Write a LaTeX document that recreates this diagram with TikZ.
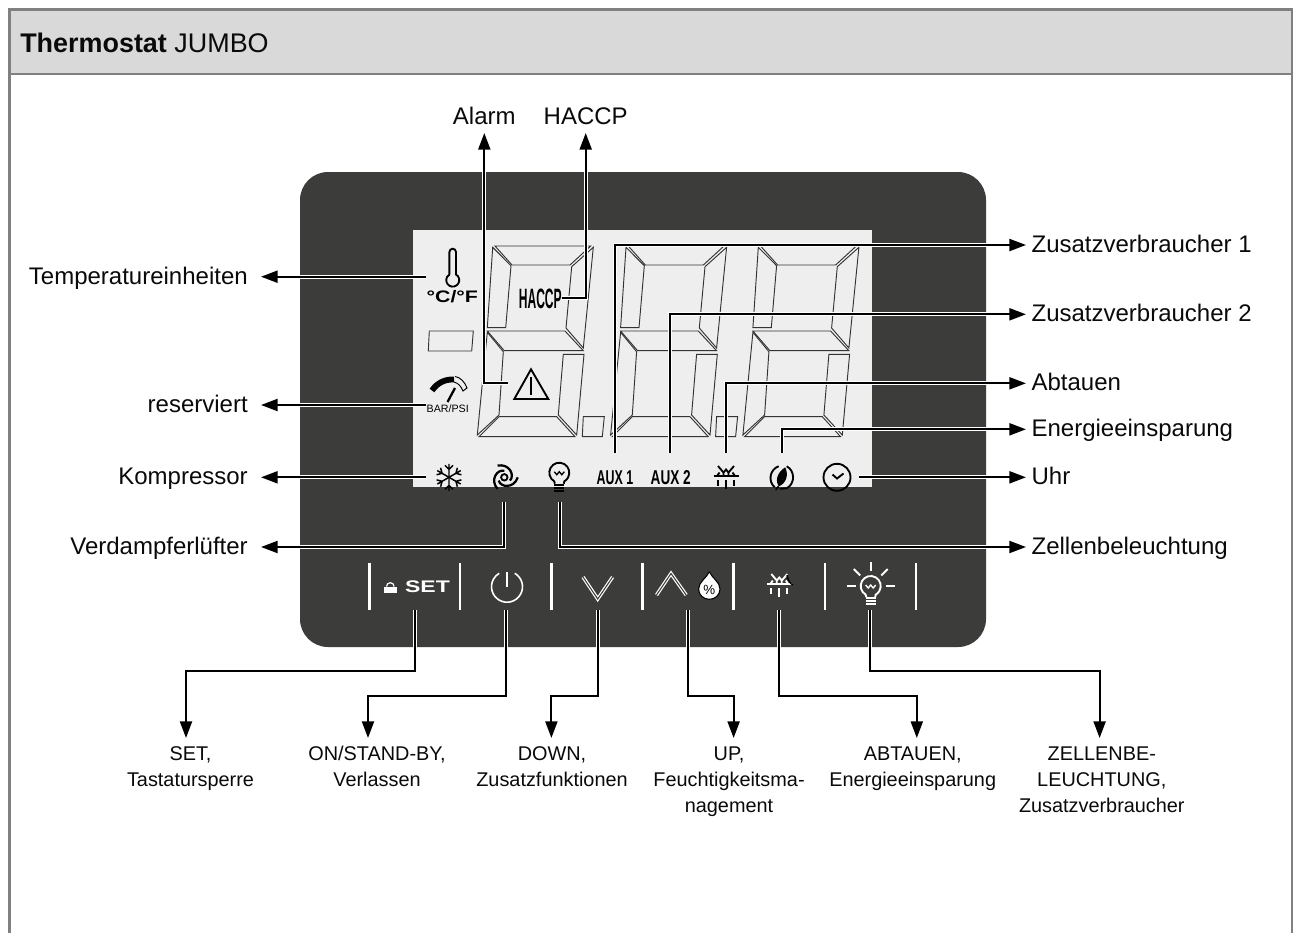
\documentclass[tikz,border=0pt]{standalone}
\usepackage{fontspec}
\setmainfont{Liberation Sans}
\usetikzlibrary{arrows.meta,positioning,calc}
\definecolor{frameg}{RGB}{128,128,128}
\definecolor{headg}{RGB}{217,217,217}
\definecolor{paneld}{RGB}{60,60,59}
\definecolor{lcdg}{RGB}{238,238,238}
\definecolor{ink}{RGB}{10,10,10}
\tikzset{
  lead/.style={-{Triangle[length=12.5pt,width=9pt]},line width=1.6pt,draw=black,
    preaction={draw=white,line width=3.2pt,-}},
  lbl/.style={font=\fontsize{18}{21}\selectfont,text=ink,text height=14pt,text depth=2.6pt},
  lblE/.style={lbl,anchor=east,inner ysep=0pt,inner xsep=9.75pt},
  lblW/.style={lbl,anchor=west,inner ysep=0pt,inner xsep=4pt},
  lblT/.style={lbl,anchor=south,inner xsep=0pt,inner ysep=3.6pt},
  sub/.style={font=\fontsize{14.9}{19.3}\selectfont,text=ink,align=center,anchor=north,inner sep=0pt},
  seg/.style={draw=black!80,line width=0.7pt,line join=miter},
  sepbar/.style={draw=white,line width=2.2pt},
  ico/.style={line width=1.4pt,line cap=butt},
  chevron/.style={draw=white,double=paneld,line width=0.9pt,double distance=0.8pt,miter limit=8},
  lcdtext/.style={inner sep=0pt,text=black},
  % seven segments, drawn at their place for the first digit
  pics/digit/.style={code={
    \draw[seg] (495,246) -- (590.7,246) -- (570,265) -- (512,265) -- cycle;
    \draw[seg] (492.7,247.3) -- (511,265.7) -- (505.7,327.7) -- (487.3,327.7) -- cycle;
    \draw[seg] (593.3,247.3) -- (571.7,266.7) -- (566,328) -- (583.3,348) -- cycle;
    \draw[seg] (487.3,331) -- (565,331) -- (583.3,350.7) -- (504.3,350.7) -- cycle;
    \draw[seg] (487.3,332.3) -- (503.3,351.7) -- (499,415) -- (477.3,435) -- cycle;
    \draw[seg] (563.3,354.3) -- (584,354.3) -- (576.7,435) -- (558.3,415) -- cycle;
    \draw[seg] (499,416.7) -- (556.7,416.7) -- (575,436.7) -- (479,436.7) -- cycle;
  }},
  pics/bulb/.style={code={
    \draw[ico] (-4.5,11) .. controls (-4.5,9) .. (120:10) arc[start angle=120,end angle=420,radius=10] .. controls (4.5,9) .. (4.5,11);
    \draw[ico,line width=1pt] (-5,-1) -- (-2.5,2) -- (0,-1) -- (2.5,2) -- (5,-1);
    \foreach \y in {12,15,18} \draw[ico,line width=1.5pt] (-5,\y) -- (5,\y);
  }},
  pics/defrost/.style={code={
    \draw[ico] (-12.5,0) -- (12.5,0);
    \draw[ico] (-8,-10) -- (-2.5,-3.5) -- (-2.5,0) (8,-10) -- (2.5,-3.5) -- (2.5,0);
    \draw[ico] (-2.5,-3.5) -- (0,-6.5) -- (2.5,-3.5);
    \draw[ico] (-9,0) -- (-6.5,-3.5) (9,0) -- (6.5,-3.5);
    \foreach \x/\a/\b in {-8/4/10,0/4/13,8/4/10} \draw[ico] (\x,\a) -- (\x,\b);
  }},
}
\begin{document}
\begin{tikzpicture}[x=0.75pt,y=-0.75pt]
  \useasboundingbox (0,0) rectangle (1295,933);
  \fill[white] (0,0) rectangle (1295,933);
  % header and frame
  \fill[headg] (9.5,9.5) rectangle (1292,74);
  \draw[frameg,line width=2pt] (9.5,74) -- (1292,74);
  \draw[frameg,line width=2pt] (9.5,933) -- (9.5,9.5) -- (1292,9.5) -- (1292,933);
  \node[anchor=base west,inner sep=0pt,text=ink,font=\fontsize{20.2}{24}\selectfont] (title) at (20,52) {\textbf{Thermostat} JUMBO};
  % device
  \fill[paneld,rounded corners=21pt] (300,172) rectangle (986,647);
  \fill[lcdg] (413,230) rectangle (872,487);
  \foreach \dx in {0,133.3,265.6} \pic at (\dx,0) {digit};
  \foreach \dx in {0,133.3} \draw[seg] ($(583.3,416.7)+(\dx,0)$) -- ++(21,0) -- ++(-2,20) -- ++(-20,0) -- cycle;
  \draw[seg] (429.3,331) -- (473.3,331) -- (471.7,351) -- (428.3,351) -- cycle;
  % thermometer
  \draw[ico,black] (449.4,274.5) -- (449.4,252) arc[start angle=180,end angle=360,radius=3.3] -- (456,274.5) arc[start angle=-60,end angle=240,radius=6.5] ;
  \node[lcdtext,font=\bfseries\fontsize{12.5}{14}\selectfont] (unitT) at (452.3,296.5) {\scalebox{1.28}[1]{°C/°F}};
  % gauge
  \draw[line width=4.4pt,black] (432,390.5) .. controls (437,383) and (445,379) .. (454,379.5);
  \draw[line width=0.7pt,black] (455,376.5) .. controls (460,377) and (465,382) .. (467,388) -- (463,391) .. controls (461,386) and (458,383) .. (454,382);
  \draw[line width=1.7pt,black] (455,388) -- (447.5,402);
  \node[lcdtext,font=\fontsize{8}{9}\selectfont] (unitP) at (447.7,408.9) {BAR/PSI};
  % warning and HACCP
  \draw[ico,black,line join=miter] (531,369.3) -- (548.3,399) -- (514.3,399) -- cycle;
  \draw[ico,black] (531,377) -- (531,394.5);
  \node[lcdtext,font=\bfseries\fontsize{21}{24}\selectfont] (hTxt) at (540.3,298.6) {\scalebox{0.43}[1]{HACCP}};
  % lower row of the display
  \begin{scope}[shift={(449,477.3)},black]
    \foreach \a in {30,90,150,210,270,330}
      \draw[ico,line width=1.1pt,rotate=\a] (0,0) -- (13.5,0) (8,0) -- (12,-4) (8,0) -- (12,4);
  \end{scope}
  \begin{scope}[shift={(504.3,477.3)},black]
    \draw[ico] (0,0) circle[radius=3.2];
    \foreach \a in {0,120,240}
      \draw[ico,line width=1.7pt,rotate=\a] (0:13.5) .. controls (50:15) and (110:11) .. (150:6.5);
  \end{scope}
  \pic[black] at (559.3,472.7) {bulb};
  \node[lcdtext,font=\bfseries\fontsize{15}{18}\selectfont] (aux1) at (615,477.3) {\scalebox{0.62}[1]{AUX 1}};
  \node[lcdtext,font=\bfseries\fontsize{15}{18}\selectfont] (aux2) at (670.7,477.3) {\scalebox{0.68}[1]{AUX 2}};
  \pic[black] at (726,476) {defrost};
  \begin{scope}[shift={(781.7,477.3)},black]
    \draw[ico] (-3,-11) .. controls (-12,-8) and (-14,4) .. (-7,10);
    \draw[ico] (5,-11) .. controls (13,-7) and (14,6) .. (5,11) -- (-2,11.5);
    \fill (3.5,-10) .. controls (-6,-4) and (-6,5) .. (-3,9) .. controls (5,6) and (7,-3) .. (3.5,-10);
    \draw[ico] (-3,9) -- (-6,12.5);
  \end{scope}
  \draw[ico,black] (837,477.3) circle[radius=13.5];
  \draw[ico,black] (832.5,474.5) -- (837,478.5) -- (843.5,473.5);
  % keys
  \foreach \x in {369.3,460,551.7,642.7,733.3,825,916} \draw[sepbar] (\x,563.3) -- (\x,610);
  \fill[white] (384,586.5) rectangle (396.7,592.7);
  \draw[white,line width=0.9pt] (386.5,586.5) arc[start angle=180,end angle=360,radius=3.8];
  \node[inner sep=0pt,text=white,font=\bfseries\fontsize{12.6}{14}\selectfont] (kSet) at (427.5,586.7) {\scalebox{1.37}[1]{SET}};
  \draw[white,line width=1.2pt] (507,586.7) ++(300:15.5) arc[start angle=300,end angle=600,radius=15.5];
  \draw[white,line width=1.2pt] (507,571.7) -- (507,587);
  \draw[chevron] (583,577) -- (597.7,599) -- (612.6,577);
  \draw[chevron] (656.5,595) -- (671,573.5) -- (686.2,595);
  \draw[fill=white,draw=black,line width=0.8pt] (709.3,571.7) .. controls (712,578) and (720,582) .. (720,589) .. controls (720,595) and (715,599.3) .. (709.3,599.3) .. controls (703.6,599.3) and (698.6,595) .. (698.6,589) .. controls (698.6,582) and (706.6,578) .. (709.3,571.7);
  \node[inner sep=0pt,text=black,font=\fontsize{10}{12}\selectfont] (kPct) at (709.3,590) {\%};
  \pic[white] at (779.3,584) {defrost};
  \draw[black,line width=1pt] (787,575) .. controls (788,580) and (790,584) .. (793,585);
  \pic[white] at (870.7,586) {bulb};
  \foreach \a in {0,45,90,135,180}
    \draw[white,ico] (870.7,586) ++(-\a:15) -- ++(-\a:9);
  % labels on both sides
  \foreach \n/\y/\t in {Temp/276.7/Temperatureinheiten,Res/405/reserviert,Komp/477.3/Kompressor,Verd/547/Verdampferlüfter}
    \node[lblE] (l\n) at (261,\y) {\t};
  \foreach \n/\y/\t in {ZusA/245/Zusatzverbraucher 1,ZusB/314.3/Zusatzverbraucher 2,Abt/383.3/Abtauen,Eng/429.3/Energieeinsparung,Uhr/477.3/Uhr,Zell/547/Zellenbeleuchtung}
    \node[lblW] (l\n) at (1026,\y) {\t};
  \node[lblT] (lAlarm) at (484.3,133) {Alarm};
  \node[lblT] (lHaccp) at (585.7,133) {HACCP};
  \node[sub] (sSet) at (190.5,746.5) {SET,\\Tastatursperre};
  \node[sub] (sOn) at (377,746) {ON/STAND-BY,\\Verlassen};
  \node[sub] (sDown) at (552,746.5) {DOWN,\\Zusatzfunktionen};
  \node[sub] (sUp) at (729,747) {UP,\\Feuchtigkeitsma-\\nagement};
  \node[sub] (sAbt) at (912.7,747) {ABTAUEN,\\Energieeinsparung};
  \node[sub] (sZell) at (1101.8,747) {ZELLENBE-\\LEUCHTUNG,\\Zusatzverbraucher};
  % connectors
  \foreach \n/\x/\y in {Temp/426/276.7,Res/426/405,Komp/426/477.3,Uhr/859.3/477.3}
    \coordinate (p\n) at (\x,\y);
  \foreach \n in {Temp,Res,Komp} \draw[lead] (p\n) -- (l\n.east);
  \draw[lead] (pUhr) -- (lUhr.west);
  \coordinate (pAlarm) at (507.7,383.3);
  \coordinate (pHaccp) at (561.7,298.3);
  \draw[lead] (pAlarm) -| (lAlarm.south);
  \draw[lead] (pHaccp) -| (lHaccp.south);
  \coordinate (pVerd) at (504,501.7);
  \coordinate (pZell) at (560,501.7);
  \draw[lead] (pVerd) |- (lVerd.east);
  \draw[lead] (pZell) |- (lZell.west);
  \foreach \n/\x in {ZusA/615,ZusB/670,Abt/726,Eng/781.7} {
    \coordinate (p\n) at (\x,452.7);
    \draw[lead] (p\n) |- (l\n.west);
  }
  \foreach \n/\x/\tx/\h in {Set/415/186/61.4,On/506/368/86,Down/597.7/551.4/86,Up/688/733.6/86,Abt/779/916.8/86,Zell/870.3/1099.6/61.4} {
    \coordinate (k\n) at (\x,610);
    \coordinate (t\n) at (\tx,738);
    \draw[lead] (k\n) -- ++(0,\h) -| (t\n);
  }
\end{tikzpicture}
\end{document}
